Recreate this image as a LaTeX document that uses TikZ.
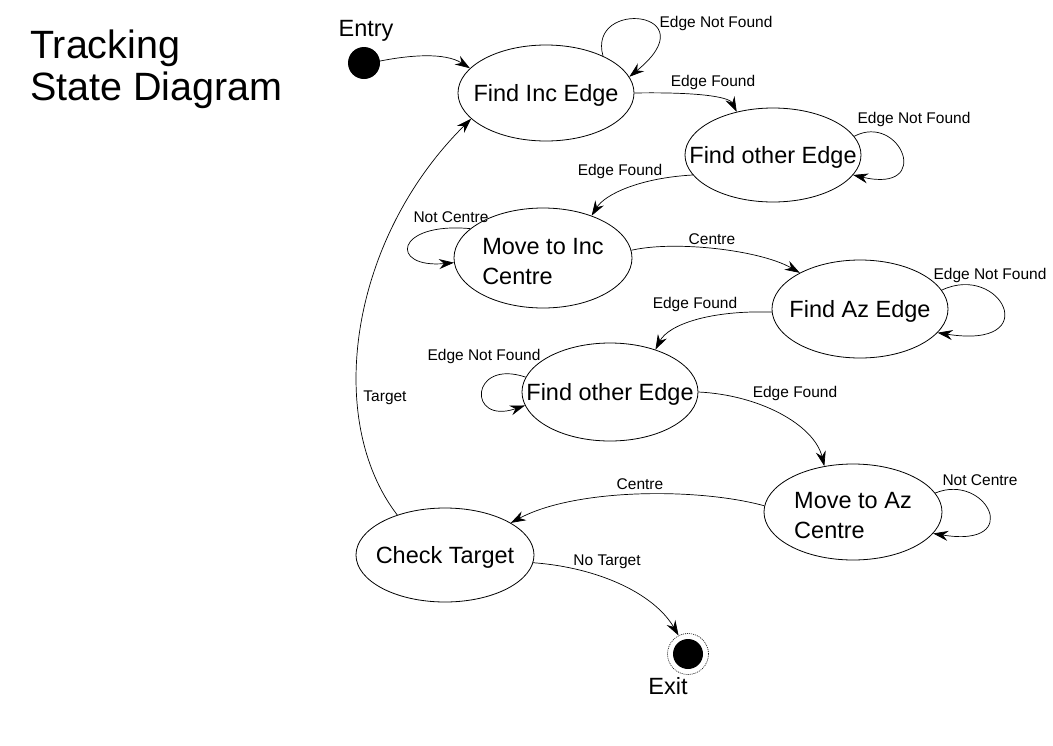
\documentclass[tikz,border=0pt]{standalone}
\usepackage{fontspec}
\setmainfont{Liberation Sans}
\usetikzlibrary{shapes.geometric,arrows.meta}
\begin{document}
\begin{tikzpicture}[x=1pt,y=-1pt,
  every node/.style={inner sep=0pt},
  state/.style={ellipse, draw, line width=0.8pt, inner xsep=-60pt, inner ysep=-20pt,
    font=\fontsize{23.5}{30}\selectfont},
  oneline/.style={text height=17.8pt, text depth=0pt},
  twoline/.style={align=left},
  lbl/.style={font=\fontsize{15.5}{18}\selectfont, anchor=base},
  big/.style={font=\fontsize{23.5}{28}\selectfont, anchor=base},
  title/.style={font=\fontsize{39.5}{45}\selectfont, anchor=base west},
  edge/.style={draw, line width=0.7pt, -{Stealth[length=15pt,width=10pt,inset=5pt]}},
]
\useasboundingbox (0,0) rectangle (1053,745);

% title
\node[title] (t1) at (30,58) {Tracking};
\node[title] (t2) at (30,100) {State Diagram};

% pseudo states
\node[circle, fill=black, minimum size=32pt] (entry) at (364,63) {};
\node[big] (entrylbl) at (366,36) {Entry};
\node[circle, draw, dash pattern=on 1pt off 1pt, line width=0.6pt, minimum size=41pt,
  path picture={\fill[black] (path picture bounding box.center) circle (15pt);}] (exit) at (688,654) {};
\node[big] (exitlbl) at (668,694) {Exit};

% states
\node[state, oneline, minimum width=176pt, minimum height=96pt] (fie) at (546,93) {Find Inc Edge};
\node[state, oneline, minimum width=176pt, minimum height=94pt] (foe1) at (773,155) {Find other Edge};
\node[state, twoline, minimum width=178pt, minimum height=100pt] (mic) at (543,258) {\rule{0pt}{24pt}Move to Inc\\Centre};
\node[state, oneline, minimum width=176pt, minimum height=98pt] (fae) at (860,309) {Find Az Edge};
\node[state, oneline, minimum width=176pt, minimum height=98pt] (foe2) at (610,392) {Find other Edge};
\node[state, twoline, minimum width=178pt, minimum height=96pt] (mac) at (853,512) {\rule{0pt}{24pt}Move to Az\\Centre};
\node[state, oneline, minimum width=178pt, minimum height=94pt] (ct) at (445,555) {Check Target};

% transitions
\path[edge] (entry.7) .. controls +(30,-6) and +(-25,-16) .. (fie.162);
\path[edge] (fie.33) .. controls +(-16,-58) and +(81,-66) .. (fie.11);
\path[edge] (fie.0) .. controls +(56,-1) and +(-8,-16) .. (foe1.130);
\path[edge] (foe1.13) .. controls +(46,-24) and +(81,19) .. (foe1.346);
\path[edge] (foe1.194) .. controls +(-54,3) and +(13,-21) .. (mic.41);
\path[edge] (mic.158) .. controls +(-76,-7) and +(-65,6) .. (mic.183);
\path[edge] (mic.5) .. controls +(43,-10) and +(-40,-23) .. (fae.149);
\path[edge] (fae.13) .. controls +(59,-28) and +(108,17) .. (fae.343);
\path[edge] (fae.182) .. controls +(-62,-2) and +(13,-25) .. (foe2.43);
\path[edge] (foe2.170) .. controls +(-56,-19) and +(-58,20) .. (foe2.189);
\path[edge] (foe2.0) .. controls +(62,3) and +(-10,-41) .. (mac.122);
\path[edge] (mac.13) .. controls +(51,-21) and +(92,15) .. (mac.345);
\path[edge] (mac.176) .. controls +(-65,-18) and +(65,-35) .. (ct.26);
\path[edge] (ct.140) .. controls +(-73,-95) and +(-122,121) .. (fie.199);
\path[edge] (ct.355) .. controls +(67,5) and +(-24,-41) .. (exit.117);

% transition labels
\node[lbl] (l1) at (716,27) {Edge Not Found};
\node[lbl] (l2) at (713,86) {Edge Found};
\node[lbl] (l3) at (914,123) {Edge Not Found};
\node[lbl] (l4) at (620,175) {Edge Found};
\node[lbl] (l5) at (451,222) {Not Centre};
\node[lbl] (l6) at (712,244) {Centre};
\node[lbl] (l7) at (990,279) {Edge Not Found};
\node[lbl] (l8) at (695,308) {Edge Found};
\node[lbl] (l9) at (484,360) {Edge Not Found};
\node[lbl] (l10) at (795,397) {Edge Found};
\node[lbl] (l11) at (980,485) {Not Centre};
\node[lbl] (l12) at (640,489) {Centre};
\node[lbl] (l13) at (385,401) {Target};
\node[lbl] (l14) at (607,565) {No Target};
\end{tikzpicture}
\end{document}
